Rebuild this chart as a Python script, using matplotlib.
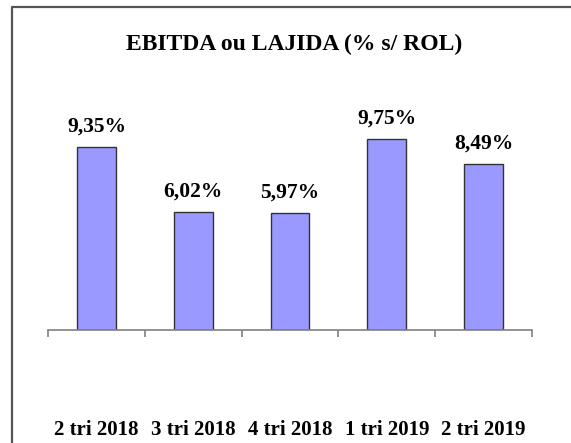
import matplotlib.pyplot as plt
import matplotlib.transforms as mtransforms
from matplotlib.lines import Line2D

categories = ['2 tri 2018', '3 tri 2018', '4 tri 2018', '1 tri 2019', '2 tri 2019']
values = [9.35, 6.02, 5.97, 9.75, 8.49]
labels = ['9,35%', '6,02%', '5,97%', '9,75%', '8,49%']

W, H = 571, 443
fig = plt.figure(figsize=(W / 100, H / 100), dpi=100)
plt.rcParams['font.family'] = ['Liberation Serif', 'DejaVu Serif']

# рамка вокруг графика: видны только левый и верхний края
fig.add_artist(Line2D([12 / W, 12 / W, 1], [0, 1 - 7 / H, 1 - 7 / H],
                      transform=fig.transFigure, color='#555555', linewidth=1.6))

ax = fig.add_axes([48 / W, 1 - 330 / H, (532 - 48) / W, (330 - 95) / H])
x = list(range(len(values)))
ax.bar(x, values, width=0.4, color='#9999FF', edgecolor='#333333', linewidth=1.0)
for xi, v, lab in zip(x, values, labels):
    ax.text(xi, v + 0.77, lab, ha='center', va='baseline', fontsize=15.5, fontweight='bold')

ax.set_xlim(-0.5, len(values) - 0.5)
ax.set_ylim(0, 12)
for s in ['left', 'right', 'top']:
    ax.spines[s].set_visible(False)
ax.spines['bottom'].set_color('#808080')
ax.spines['bottom'].set_linewidth(1.2)
ax.set_yticks([])
ax.set_xticks([i - 0.5 for i in range(len(values) + 1)])
ax.set_xticklabels([])
ax.tick_params(axis='x', length=5, width=1.2, color='#808080', direction='out')

# подписи категорий далеко под осью
trans = mtransforms.blended_transform_factory(ax.transData, fig.transFigure)
for xi, cat in zip(x, categories):
    ax.text(xi, 1 - 435 / H, cat, transform=trans, ha='center', va='baseline',
            fontsize=15, fontweight='bold', clip_on=False)

fig.text(294 / W, 1 - 50 / H, 'EBITDA ou LAJIDA (% s/ ROL)', ha='center', va='baseline',
         fontsize=17, fontweight='bold')

fig.savefig('out.png', dpi=100)
